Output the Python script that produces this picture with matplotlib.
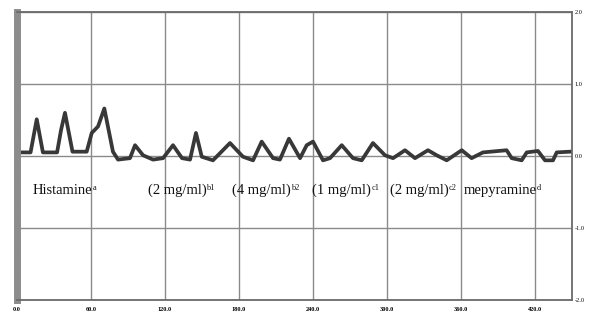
import matplotlib.pyplot as plt
import numpy as np
from matplotlib.ticker import MultipleLocator

plt.rcParams['font.family'] = ['Liberation Serif', 'DejaVu Serif']

# trace (time, response)
t = [0, 11.0, 16.0, 21.0, 32.5, 35.7, 38.9, 45.0, 56.5, 60.6, 65.7, 70.8, 77.8, 81.9,
     91.6, 95.7, 102.2, 110.3, 118.4, 126.5, 133.8, 140.3, 145.1, 149.8, 158.9, 172.7,
     183.2, 191.4, 198.4, 207.6, 213.2, 220.5, 229.5, 234.9, 240.0, 248.1, 253.8, 263.3,
     272.4, 279.5, 288.6, 298.4, 304.9, 314.6, 322.7, 333.2, 340.3, 348.4, 360.6, 368.6,
     377.8, 397.0, 401.1, 409.2, 413.3, 422.4, 428.1, 434.6, 437.6, 448.4]
resp = [0.05, 0.05, 0.51, 0.05, 0.05, 0.36, 0.60, 0.06, 0.06, 0.32, 0.41, 0.66, 0.06, -0.05,
        -0.03, 0.15, 0.01, -0.05, -0.03, 0.15, -0.03, -0.05, 0.32, -0.01, -0.06, 0.18,
        -0.01, -0.06, 0.20, -0.03, -0.05, 0.24, -0.03, 0.15, 0.20, -0.06, -0.03, 0.15,
        -0.03, -0.06, 0.18, 0.01, -0.03, 0.08, -0.03, 0.08, 0.01, -0.06, 0.08, -0.03,
        0.05, 0.08, -0.03, -0.06, 0.05, 0.07, -0.06, -0.06, 0.05, 0.06]

labels = ['Histamine', '(2 mg/ml)', '(4 mg/ml)', '(1 mg/ml)', '(2 mg/ml)', 'mepyramine']
sups = ['a', 'b1', 'b2', 'c1', 'c2', 'd']
label_x = [13, 106, 174.5, 239.5, 302.5, 362]

xticks = [0, 60, 120, 180, 240, 300, 360, 420]
yticks = [2, 1, 0, -1, -2]
ytick_labels = ['2.0', '1.0', '0.0', '-1.0', '-2.0']

fig = plt.figure(figsize=(5.91, 3.18), dpi=100)
ax = fig.add_axes([17/591, 1-300/318, (572-17)/591, (300-12)/318])

ax.plot(t, resp, color='#383838', lw=2.7, solid_joinstyle='round')

for lx, lab, sp in zip(label_x, labels, sups):
    txt = ax.text(lx, -0.48, lab, fontsize=10.5, va='center', ha='left', color='#111111')
    ax.annotate(sp, xy=(1, 1), xycoords=txt, xytext=(0, 0), textcoords='offset points',
                fontsize=6, va='top', ha='left', color='#111111')

ax.set_xlim(0, 450)
ax.set_ylim(-2, 2)
ax.set_xticks(xticks)
ax.set_xticklabels(['%.1f' % v for v in xticks], fontsize=4.5, fontweight='bold')
ax.set_yticks(yticks)
ax.set_yticklabels(ytick_labels, fontsize=4.5)
ax.yaxis.tick_right()
ax.tick_params(axis='y', length=0, pad=2)
ax.tick_params(axis='x', length=0, pad=5)
ax.yaxis.set_minor_locator(MultipleLocator(0.2))
ax.tick_params(axis='y', which='minor', left=True, right=False, length=2, color='#555555', direction='in')

ax.grid(True, color='#8a8a8a', lw=1.0)
ax.set_axisbelow(True)
for s in ['top', 'right', 'bottom']:
    ax.spines[s].set_color('#6a6a6a')
    ax.spines[s].set_linewidth(1.3)
ax.spines['left'].set_color('#8c8c8c')
ax.spines['left'].set_linewidth(5)

fig.savefig('out.png', dpi=100)
